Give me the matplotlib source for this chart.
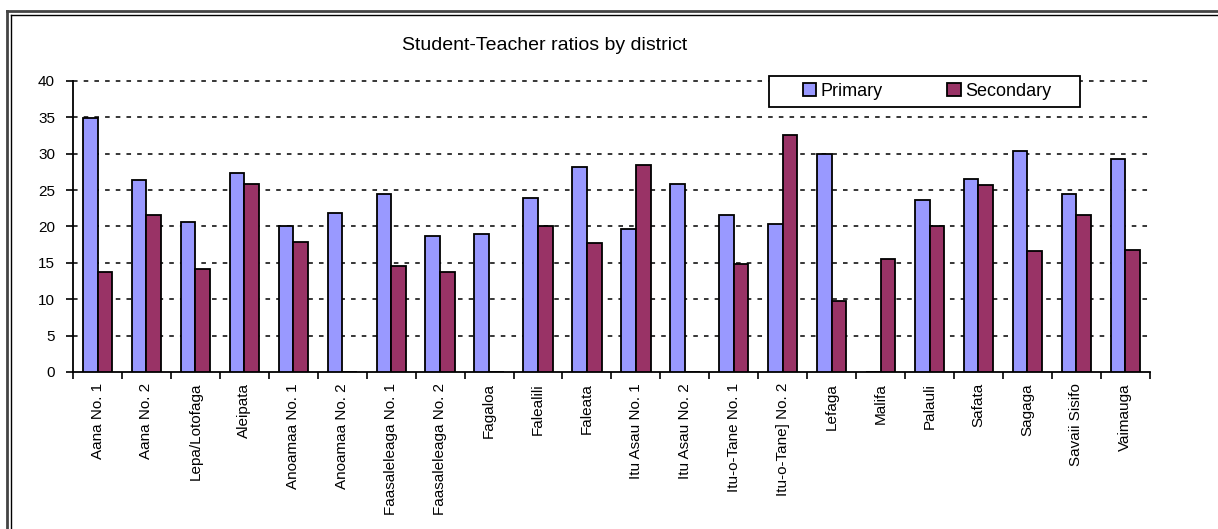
import matplotlib
matplotlib.use("Agg")
import matplotlib.pyplot as plt
import numpy as np
from matplotlib.lines import Line2D
from matplotlib.patches import Rectangle

districts = ["Aana No. 1", "Aana No. 2", "Lepa/Lotofaga", "Aleipata", "Anoamaa No. 1",
             "Anoamaa No. 2", "Faasaleleaga No. 1", "Faasaleleaga No. 2", "Fagaloa",
             "Falealili", "Faleata", "Itu Asau No. 1", "Itu Asau No. 2", "Itu-o-Tane No. 1",
             "Itu-o-Tane] No. 2", "Lefaga", "Malifa", "Palauli", "Safata", "Sagaga",
             "Savaii Sisifo", "Vaimauga"]
primary = [34.9, 26.4, 20.6, 27.4, 20.0, 21.8, 24.4, 18.7, 18.9, 23.9, 28.2,
           19.7, 25.8, 21.6, 20.3, 30.0, 0, 23.6, 26.5, 30.3, 24.4, 29.2]
secondary = [13.7, 21.6, 14.2, 25.8, 17.9, 0, 14.5, 13.7, 0, 20.0, 17.7,
             28.4, 0, 14.8, 32.6, 9.8, 15.5, 20.0, 25.7, 16.6, 21.6, 16.8]

plt.rcParams['font.family'] = ['Liberation Sans', 'DejaVu Sans']

W, H = 1218, 529
fig = plt.figure(figsize=(W / 100, H / 100), dpi=100)
ax = fig.add_axes([0.06, 0.297, 0.884, 0.55])

x = np.arange(len(districts))
w = 0.3
ax.bar(x - w/2, primary, w, color='#9999FF', edgecolor='black', linewidth=1.3,
       label='Primary', zorder=3)
ax.bar(x + w/2, secondary, w, color='#993366', edgecolor='black', linewidth=1.3,
       label='Secondary', zorder=3)

ax.set_xlim(-0.5, len(districts) - 0.5)
ax.set_ylim(0, 40)
ax.set_yticks(np.arange(0, 41, 5))
ax.tick_params(axis='y', labelsize=11, length=5, width=1.2, direction='out', pad=8)

# category labels centred, tick marks on the boundaries
ax.set_xticks(x)
ax.set_xticklabels(districts, rotation=90, fontsize=11)
ax.tick_params(axis='x', which='major', length=0, pad=8)
ax.set_xticks(np.arange(-0.5, len(districts), 1), minor=True)
ax.tick_params(axis='x', which='minor', length=5, width=1.2, direction='out')

for y in range(5, 41, 5):
    ax.axhline(y, color='black', linewidth=1.1, linestyle=(0, (3, 4)), zorder=1,
               clip_on=False)

for s in ['top', 'right']:
    ax.spines[s].set_visible(False)
ax.spines['left'].set_linewidth(1.3)
ax.spines['bottom'].set_linewidth(1.3)

fig.text(545 / W, 0.905, 'Student-Teacher ratios by district', fontsize=14, ha='center')

# legend: frame drawn separately so its size matches the original box
fig.add_artist(Rectangle((769 / W, 1 - 107 / H), 311 / W, 31 / H, transform=fig.transFigure,
                         facecolor='white', edgecolor='black', linewidth=1.3, zorder=4))
handles, labels = ax.get_legend_handles_labels()
leg = fig.legend(handles, labels, ncol=2, loc='center',
                 bbox_to_anchor=(790 / W, 1 - 107 / H, 274 / W, 31 / H),
                 bbox_transform=fig.transFigure, frameon=False,
                 fontsize=13, handlelength=0.75, handleheight=0.75, columnspacing=2.5,
                 handletextpad=0.25, borderpad=0.2, mode='expand')
leg.set_zorder(5)

# outer chart frame (double line on top and left)
fig.add_artist(Line2D([0.006, 1.0], [1 - 11/H, 1 - 11/H], color='#444444', linewidth=2))
fig.add_artist(Line2D([0.009, 1.0], [1 - 14.5/H, 1 - 14.5/H], color='black', linewidth=1))
fig.add_artist(Line2D([7/W, 7/W], [0, 1 - 11/H], color='#444444', linewidth=2))
fig.add_artist(Line2D([10.5/W, 10.5/W], [0, 1 - 14.5/H], color='black', linewidth=1))

fig.savefig('out.png', dpi=100)
